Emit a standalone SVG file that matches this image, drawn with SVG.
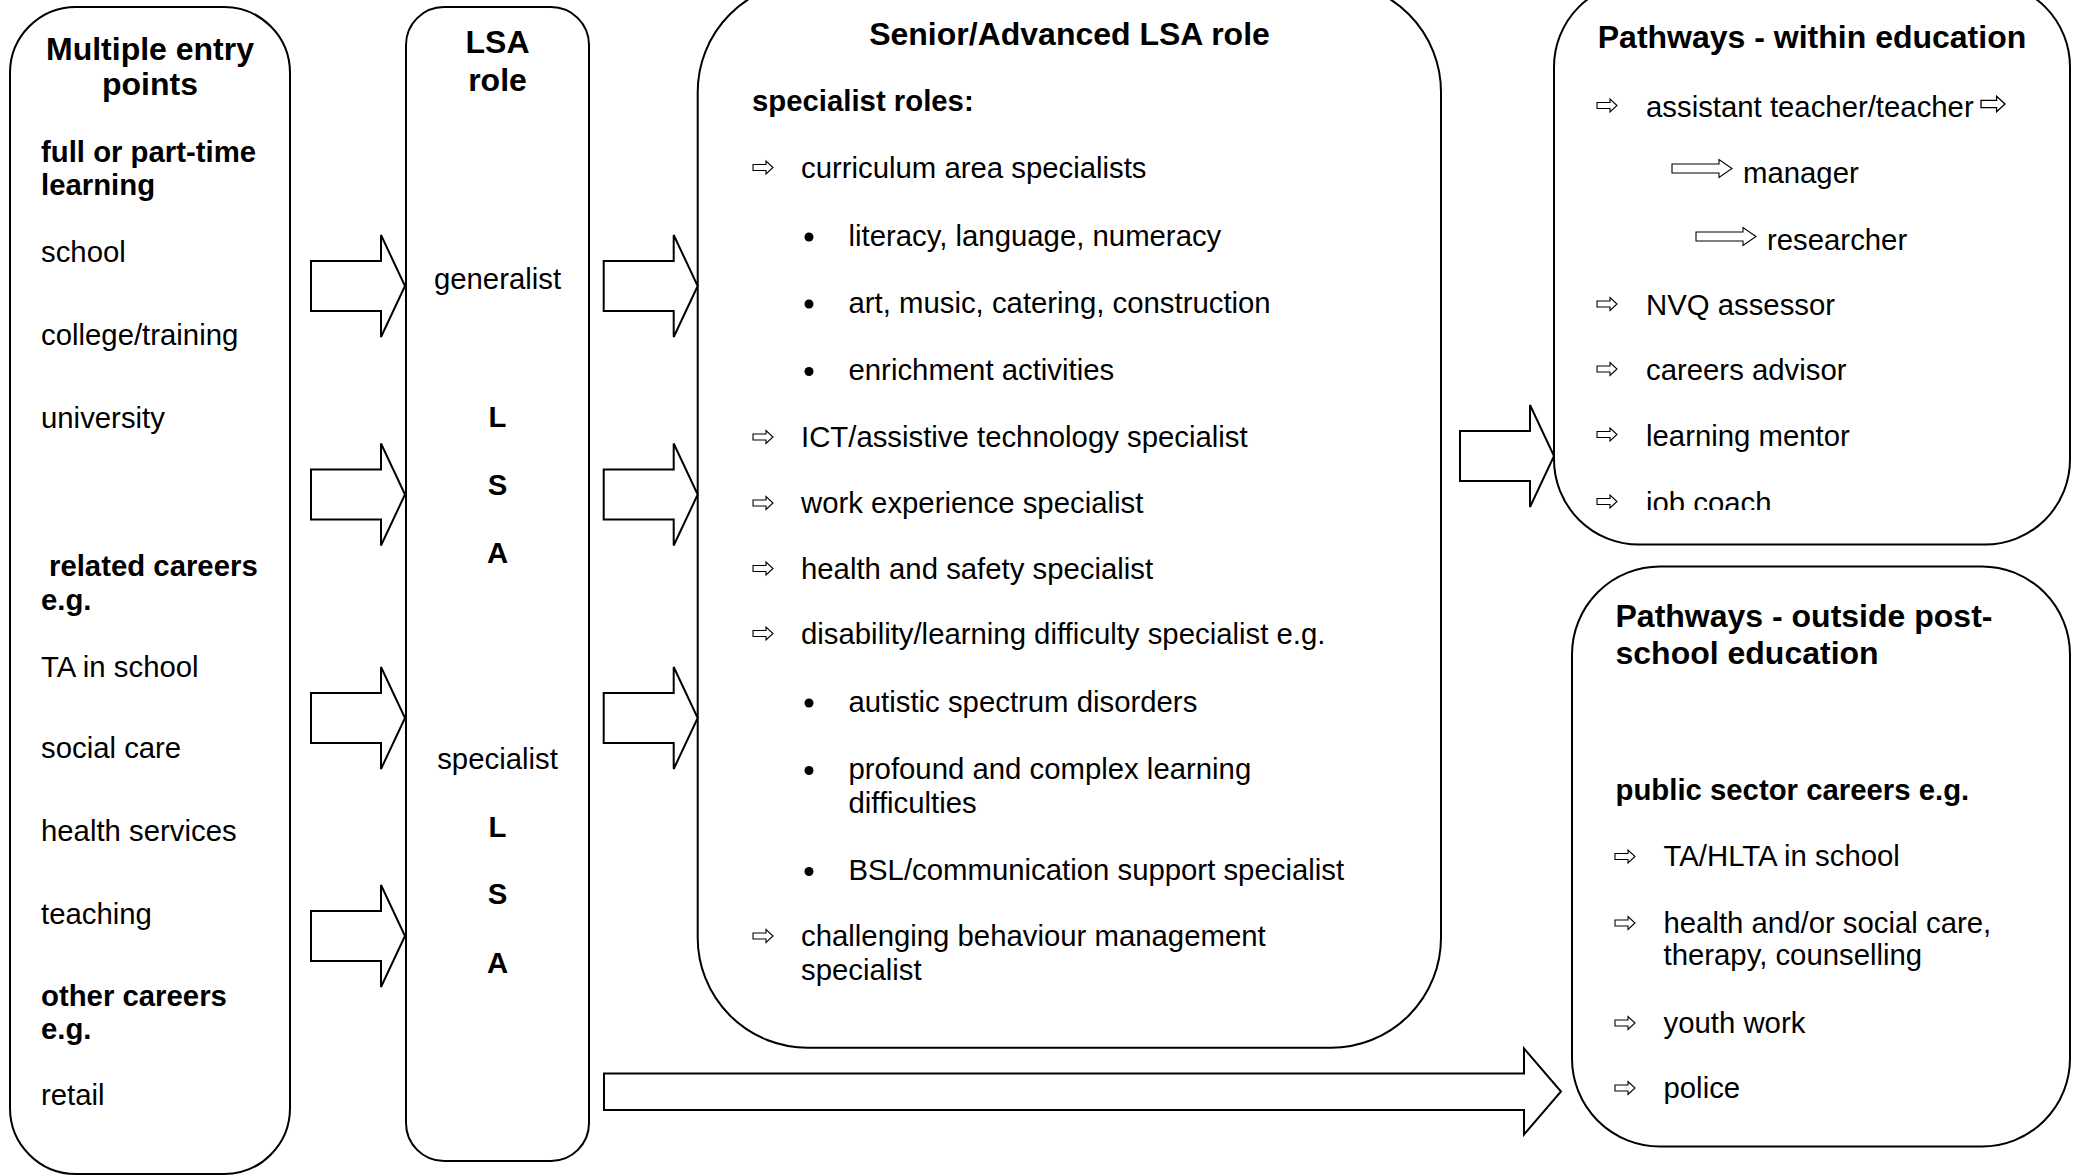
<svg xmlns="http://www.w3.org/2000/svg" xmlns:xlink="http://www.w3.org/1999/xlink" width="2078" height="1176" viewBox="0 0 2078 1176">
<style>
.box{fill:#fff;stroke:#000;stroke-width:2}
.arr{fill:#fff;stroke:#000;stroke-width:2;stroke-linejoin:miter}
.sm{fill:#fff;stroke:#000;stroke-width:1.1;stroke-linejoin:miter}
text{font-family:"Liberation Sans",Arial,sans-serif;font-size:29.33px;fill:#000}
.b{font-weight:bold}
.h{font-size:32px;font-weight:bold}
.c{text-anchor:middle}
.dot{fill:#000}
</style>
<defs>
<path id="blk" d="M0,-25 H70 V-51 L94,0 L70,51 V25 H0 Z"/>
<path id="wa" d="M0,-3 H13 V-6.5 L20,0 L13,6.5 V3 H0 Z"/>
<path id="wl" d="M0,-4.5 H47 V-9 L60,0 L47,9 V4.5 H0 Z"/>
<clipPath id="clip4"><rect x="1554" y="0" width="516" height="510"/></clipPath>
</defs>
<rect width="2078" height="1176" fill="#fff"/>

<g id="entry-points">
<rect class="box" x="10" y="7" width="280" height="1167" rx="66" ry="66"/>
<text class="h c" x="150" y="60">Multiple entry</text>
<text class="h c" x="150" y="95">points</text>
<text class="b" x="41" y="162">full or part-time</text>
<text class="b" x="41" y="195">learning</text>
<text x="41" y="262">school</text>
<text x="41" y="345">college/training</text>
<text x="41" y="428">university</text>
<text class="b" x="49" y="576">related careers</text>
<text class="b" x="41" y="610">e.g.</text>
<text x="41" y="677">TA in school</text>
<text x="41" y="758">social care</text>
<text x="41" y="841">health services</text>
<text x="41" y="923.5">teaching</text>
<text class="b" x="41" y="1005.5">other careers</text>
<text class="b" x="41" y="1039">e.g.</text>
<text x="41" y="1105">retail</text>
</g>

<g id="lsa-role">
<rect class="box" x="406" y="7" width="183" height="1154" rx="38" ry="38"/>
<text class="h c" x="497.5" y="53">LSA</text>
<text class="h c" x="497.5" y="91">role</text>
<text class="c" x="497.5" y="289">generalist</text>
<text class="b c" x="497.5" y="427">L</text>
<text class="b c" x="497.5" y="495">S</text>
<text class="b c" x="497.5" y="563">A</text>
<text class="c" x="497.5" y="768.5">specialist</text>
<text class="b c" x="497.5" y="837">L</text>
<text class="b c" x="497.5" y="904">S</text>
<text class="b c" x="497.5" y="973">A</text>
</g>

<g id="senior-lsa-role">
<rect class="box" x="697.7" y="-18" width="743.3" height="1065.7" rx="110" ry="110"/>
<text class="h c" x="1069.5" y="45">Senior/Advanced LSA role</text>
<text class="b" x="752" y="111">specialist roles:</text>
<use xlink:href="#wa" class="sm" x="753" y="167.5"/>
<text x="801" y="177.5">curriculum area specialists</text>
<circle class="dot" cx="809" cy="237" r="4.5"/>
<text x="848.5" y="245.5">literacy, language, numeracy</text>
<circle class="dot" cx="809" cy="304" r="4.5"/>
<text x="848.5" y="312.5">art, music, catering, construction</text>
<circle class="dot" cx="809" cy="371.5" r="4.5"/>
<text x="848.5" y="380">enrichment activities</text>
<use xlink:href="#wa" class="sm" x="753" y="437"/>
<text x="801" y="447">ICT/assistive technology specialist</text>
<use xlink:href="#wa" class="sm" x="753" y="503"/>
<text x="801" y="513">work experience specialist</text>
<use xlink:href="#wa" class="sm" x="753" y="568.5"/>
<text x="801" y="578.5">health and safety specialist</text>
<use xlink:href="#wa" class="sm" x="753" y="633.5"/>
<text x="801" y="643.5">disability/learning difficulty specialist e.g.</text>
<circle class="dot" cx="809" cy="703" r="4.5"/>
<text x="848.5" y="711.5">autistic spectrum disorders</text>
<circle class="dot" cx="809" cy="770.5" r="4.5"/>
<text x="848.5" y="779">profound and complex learning</text>
<text x="848.5" y="812.5">difficulties</text>
<circle class="dot" cx="809" cy="871.5" r="4.5"/>
<text x="848.5" y="880">BSL/communication support specialist</text>
<use xlink:href="#wa" class="sm" x="753" y="936"/>
<text x="801" y="946">challenging behaviour management</text>
<text x="801" y="980">specialist</text>
</g>

<g id="pathways-within">
<rect class="box" x="1554" y="-18" width="516" height="562.6" rx="85" ry="85"/>
<text class="h c" x="1812" y="48">Pathways - within education</text>
<use xlink:href="#wa" class="sm" x="1597" y="105.5"/>
<text x="1646" y="116.5">assistant teacher/teacher</text>
<use xlink:href="#wa" class="sm" transform="translate(1981,104) scale(1.2)"/>
<use xlink:href="#wl" class="sm" x="1672" y="168.5"/>
<text x="1743" y="182.5">manager</text>
<use xlink:href="#wl" class="sm" x="1696" y="236.5"/>
<text x="1767" y="249.5">researcher</text>
<use xlink:href="#wa" class="sm" x="1597" y="304"/>
<text x="1646" y="315">NVQ assessor</text>
<use xlink:href="#wa" class="sm" x="1597" y="369"/>
<text x="1646" y="380">careers advisor</text>
<use xlink:href="#wa" class="sm" x="1597" y="434.5"/>
<text x="1646" y="445.5">learning mentor</text>
<use xlink:href="#wa" class="sm" x="1597" y="501.5"/>
<text x="1646" y="513" clip-path="url(#clip4)">job coach</text>
</g>

<g id="pathways-outside">
<rect class="box" x="1572" y="566.5" width="498" height="580" rx="88" ry="88"/>
<text class="h" x="1615.5" y="627">Pathways - outside post-</text>
<text class="h" x="1615.5" y="663.5">school education</text>
<text class="b" x="1615.5" y="799.5">public sector careers e.g.</text>
<use xlink:href="#wa" class="sm" x="1615" y="856.5"/>
<text x="1663.5" y="866">TA/HLTA in school</text>
<use xlink:href="#wa" class="sm" x="1615" y="923"/>
<text x="1663.5" y="932.5">health and/or social care,</text>
<text x="1663.5" y="965">therapy, counselling</text>
<use xlink:href="#wa" class="sm" x="1615" y="1023"/>
<text x="1663.5" y="1032.5">youth work</text>
<use xlink:href="#wa" class="sm" x="1615" y="1088"/>
<text x="1663.5" y="1097.5">police</text>
</g>

<g id="connectors">
<use xlink:href="#blk" class="arr" x="311" y="286"/>
<use xlink:href="#blk" class="arr" x="311" y="494.5"/>
<use xlink:href="#blk" class="arr" x="311" y="718"/>
<use xlink:href="#blk" class="arr" x="311" y="936"/>
<use xlink:href="#blk" class="arr" x="603.7" y="286"/>
<use xlink:href="#blk" class="arr" x="603.7" y="494.5"/>
<use xlink:href="#blk" class="arr" x="603.7" y="718"/>
<use xlink:href="#blk" class="arr" x="1460" y="456"/>
<path class="arr" d="M604,1073.5 H1524 V1048.5 L1561,1091.5 L1524,1134.5 V1110 H604 Z"/>
</g>
</svg>
